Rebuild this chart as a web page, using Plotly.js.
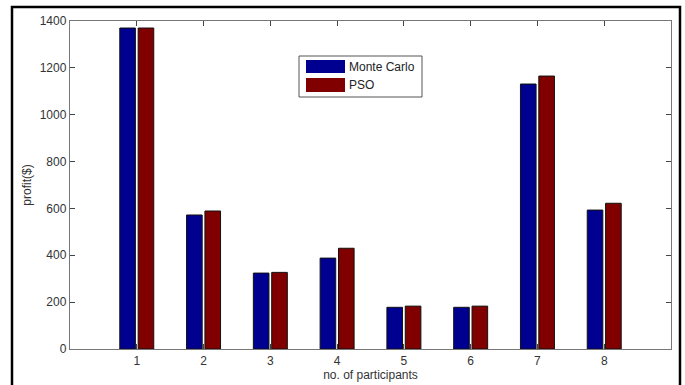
<!DOCTYPE html>
<html>
<head>
<meta charset="utf-8">
<script src="https://cdn.plot.ly/plotly-3.0.1.min.js"></script>
<style>html,body{margin:0;padding:0;background:#fff;}#chart{width:685px;height:385px;}</style>
</head>
<body>
<div id="chart"></div>
<script>
const categories = [1, 2, 3, 4, 5, 6, 7, 8];
const monteCarlo = [1370, 572, 324, 388, 178, 178, 1131, 593];
const pso = [1370, 589, 327, 430, 183, 183, 1165, 622];
const seriesNames = ['Monte Carlo', 'PSO'];
const yTicks = [0, 200, 400, 600, 800, 1000, 1200, 1400];

const W = 685, H = 385;
const M = {l: 70, r: 14, t: 21, b: 36};
const pw = W - M.l - M.r, ph = H - M.t - M.b;
const px = x => (x - M.l) / pw;
const py = y => (H - M.b - y) / ph;

const colors = ['#000090', '#800000'];
const font = {family: 'Liberation Sans, Arial, sans-serif', size: 12, color: '#333'};

const traces = [
  {type: 'bar', x: categories, y: monteCarlo, name: seriesNames[0],
   marker: {color: colors[0], line: {color: '#111', width: 1}}},
  {type: 'bar', x: categories, y: pso, name: seriesNames[1],
   marker: {color: colors[1], line: {color: '#111', width: 1}}}
];

const axisCommon = {
  showline: true, linecolor: '#777', linewidth: 1.2, mirror: 'ticks',
  ticks: 'inside', ticklen: 5, tickcolor: '#444', tickwidth: 1,
  showgrid: false, zeroline: false, tickfont: font
};

const layout = {
  width: W, height: H,
  margin: M,
  paper_bgcolor: '#fff', plot_bgcolor: '#fff',
  showlegend: false,
  barmode: 'group', bargap: 0.45, bargroupgap: 0.15,
  font: font,
  xaxis: Object.assign({}, axisCommon, {
    range: [0, 9], tickvals: categories, ticktext: categories.map(String),
    title: {text: 'no. of participants', font: font, standoff: 4}
  }),
  yaxis: Object.assign({}, axisCommon, {
    range: [0, 1400], tickvals: yTicks,
    title: {text: 'profit($)', font: font, standoff: 5}
  }),
  shapes: [
    {type: 'rect', xref: 'paper', yref: 'paper', x0: px(12), x1: px(680), y0: py(400), y1: py(7),
     line: {color: '#000', width: 2.5}, fillcolor: 'rgba(0,0,0,0)'},
    {type: 'rect', xref: 'paper', yref: 'paper', x0: px(299), x1: px(422), y0: py(97), y1: py(56),
     line: {color: '#555', width: 1}, fillcolor: '#fff'},
    {type: 'rect', xref: 'paper', yref: 'paper', x0: px(306), x1: px(345), y0: py(73), y1: py(60),
     line: {width: 0}, fillcolor: colors[0]},
    {type: 'rect', xref: 'paper', yref: 'paper', x0: px(306), x1: px(345), y0: py(92), y1: py(78),
     line: {width: 0}, fillcolor: colors[1]}
  ],
  annotations: [
    {xref: 'paper', yref: 'paper', x: px(347), y: py(67), text: seriesNames[0], showarrow: false,
     xanchor: 'left', yanchor: 'middle', font: {family: font.family, size: 12, color: '#222'}},
    {xref: 'paper', yref: 'paper', x: px(347), y: py(85), text: seriesNames[1], showarrow: false,
     xanchor: 'left', yanchor: 'middle', font: {family: font.family, size: 12, color: '#222'}}
  ]
};

Plotly.newPlot('chart', traces, layout, {displayModeBar: false, staticPlot: true});
</script>
</body>
</html>
